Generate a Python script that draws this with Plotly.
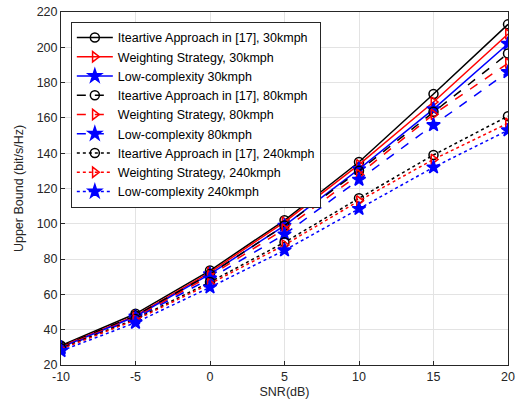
import plotly.graph_objects as go

snr = [-10, -5, 0, 5, 10, 15, 20]
snr_labels = ["-10", "-5", "0", "5", "10", "15", "20"]

iter_30 = [31, 49, 73.5, 102, 135, 173.5, 213]
weight_30 = [30.5, 48, 72.5, 101, 133.5, 169, 207.5]
low_30 = [30, 47.5, 71.5, 99, 131, 165, 202]
iter_80 = [30.5, 48, 71.5, 99, 130, 163.5, 196.5]
weight_80 = [30, 47, 70.5, 97, 128, 162, 191]
low_80 = [29.5, 46.5, 69, 94, 125, 156, 186]
iter_240 = [29.5, 46, 67, 89.5, 114.5, 139, 161]
weight_240 = [29, 45.5, 66, 88, 113, 136.5, 157]
low_240 = [28, 44, 64, 85, 108.5, 132, 153]

names = [
    "Iteartive Approach in [17], 30kmph",
    "Weighting Strategy, 30kmph",
    "Low-complexity 30kmph",
    "Iteartive Approach in [17], 80kmph",
    "Weighting Strategy, 80kmph",
    "Low-complexity 80kmph",
    "Iteartive Approach in [17], 240kmph",
    "Weighting Strategy, 240kmph",
    "Low-complexity 240kmph",
]
series = [iter_30, weight_30, low_30, iter_80, weight_80, low_80, iter_240, weight_240, low_240]
colors = ["#000000", "#ff0000", "#0000ff"] * 3
symbols = ["circle-open", "triangle-right-open", "star"] * 3
sizes = [9, 9, 10] * 3
dashes = ["solid"] * 3 + ["dash"] * 3 + ["dot"] * 3

fig = go.Figure()
for n, s, c, sym, sz, d in zip(names, series, colors, symbols, sizes, dashes):
    fig.add_trace(go.Scatter(
        x=snr, y=s, name=n, mode="lines+markers",
        line=dict(color=c, width=1.5, dash=d),
        marker=dict(symbol=sym, size=sz, color=c, line=dict(color=c, width=1.5)),
    ))

axis_common = dict(
    showgrid=True, gridcolor="#e3e3e3", gridwidth=1,
    showline=True, linecolor="#262626", linewidth=1, mirror=True,
    ticks="inside", ticklen=4, tickcolor="#262626",
    tickfont=dict(family="Liberation Sans, Arial", size=12.5, color="#262626"),
    zeroline=False, automargin=False,
)

fig.update_layout(
    width=516, height=409,
    margin=dict(l=61, r=8, t=12, b=44),
    paper_bgcolor="white", plot_bgcolor="white",
    font=dict(family="Liberation Sans, Arial", size=12.5, color="#262626"),
    xaxis=dict(range=[-10, 20], tickvals=snr, ticktext=snr_labels,
               title=dict(text="SNR(dB)", font=dict(size=12.5), standoff=4), **axis_common),
    yaxis=dict(range=[20, 220], tickvals=list(range(20, 221, 20)),
               title=dict(text="Upper Bound (bit/s/Hz)", font=dict(size=12.5), standoff=10), **axis_common),
    legend=dict(x=0.022, y=0.972, xanchor="left", yanchor="top",
                bgcolor="white", bordercolor="#262626", borderwidth=1,
                font=dict(family="Liberation Sans, Arial", size=12.5, color="#000000"),
                itemwidth=36, tracegroupgap=0),
    showlegend=True,
)

fig.write_html("out.html", config={"displayModeBar": False},
               post_script="document.body.style.margin='0';document.body.style.padding='0';")
